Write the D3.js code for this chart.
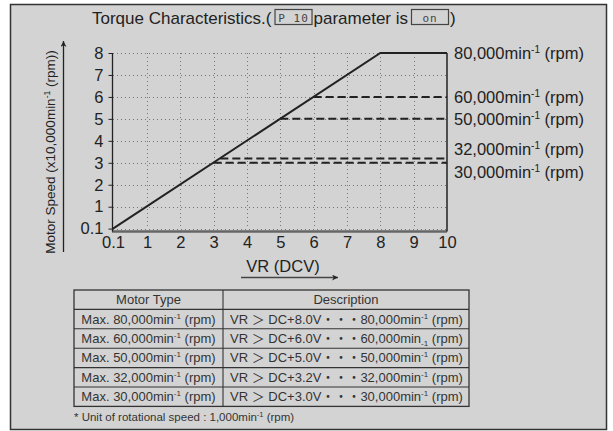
<!DOCTYPE html>
<html lang="en">
<head>
<meta charset="utf-8">
<script src="https://d3js.org/d3.v7.min.js"></script>
<style>
  body { margin: 0; background: #fff; }
  svg { font-family: "Liberation Sans", Arial, "Noto Sans CJK JP", sans-serif; }
</style>
</head>
<body>
<div id="chart"></div>
<script>
// ---- data ----
var xTicks = [0.1, 1, 2, 3, 4, 5, 6, 7, 8, 9, 10];
var yTicks = [0.1, 1, 2, 3, 4, 5, 6, 7, 8];
// main characteristic (VR volts, speed x10,000)
var mainVR = [0.1, 8, 10];
var mainSpeed = [0.1, 8, 8];
// limited motor types: start voltage and speed of the flat dashed part
var limitVR = [6, 5, 3.2, 3];
var limitSpeed = [6, 5, 3.2, 3];
// right hand labels
var labelSpeeds = [8, 6, 5, 3.2, 3];
var labelNames = ["80,000", "60,000", "50,000", "32,000", "30,000"];
// table
var motorSpeeds = ["80,000", "60,000", "50,000", "32,000", "30,000"];
var motorVolts = ["8.0", "6.0", "5.0", "3.2", "3.0"];

var W = 613, H = 431;
var svg = d3.select("#chart").append("svg")
    .attr("width", W).attr("height", H);

// frame
svg.append("rect")
    .attr("x", 10.5).attr("y", 4.5)
    .attr("width", 596).attr("height", 425)
    .attr("fill", "#d3d3d3")
    .attr("stroke", "#333").attr("stroke-width", 1.5);

var ink = "#222";

// scales (0.1 takes the place of the first whole step)
var x = d3.scaleLinear().domain([0.1, 1, 10]).range([113, 147, 447]);
var y = d3.scaleLinear().domain([0.1, 1, 8]).range([228.6, 206.7, 53]);

// grid
var grid = svg.append("g")
    .attr("stroke", "#777").attr("stroke-width", 1)
    .attr("stroke-dasharray", "1,3");
grid.selectAll(".gx").data(xTicks.slice(1, -1)).enter().append("line")
    .attr("x1", function(d){ return Math.round(x(d)) + 0.5; })
    .attr("x2", function(d){ return Math.round(x(d)) + 0.5; })
    .attr("y1", y(8)).attr("y2", y(0.1));
grid.selectAll(".gy").data(yTicks).enter().append("line")
    .attr("y1", function(d){ return Math.round(y(d)) + 0.5; })
    .attr("y2", function(d){ return Math.round(y(d)) + 0.5; })
    .attr("x1", x(0.1)).attr("x2", x(10));

var axisY0 = y(0.1) + 3;

// x axis
var xAxis = svg.append("g")
    .attr("transform", "translate(0," + axisY0 + ")")
    .call(d3.axisBottom(x).tickValues(xTicks).tickSize(0).tickPadding(5)
          .tickFormat(function(d){ return d; }));
xAxis.select(".domain").remove();
xAxis.selectAll("text").attr("font-size", 16.5).attr("fill", ink)
    .attr("font-family", null);
svg.append("line")
    .attr("x1", x(0.1) - 1).attr("x2", x(10))
    .attr("y1", axisY0).attr("y2", axisY0)
    .attr("stroke", "#666").attr("stroke-width", 2.5);

// y axis
var yAxis = svg.append("g")
    .attr("transform", "translate(" + (x(0.1) - 0.5) + ",0)")
    .call(d3.axisLeft(y).tickValues(yTicks).tickSize(4).tickPadding(5)
          .tickFormat(function(d){ return d; }));
yAxis.select(".domain").remove();
yAxis.selectAll("line").attr("stroke", ink);
yAxis.selectAll("text").attr("font-size", 16.5).attr("fill", ink)
    .attr("font-family", null);
svg.append("line")
    .attr("x1", x(0.1) - 0.5).attr("x2", x(0.1) - 0.5)
    .attr("y1", y(8)).attr("y2", axisY0)
    .attr("stroke", ink).attr("stroke-width", 1.3);

// right border of plot
svg.append("line")
    .attr("x1", x(10)).attr("x2", x(10))
    .attr("y1", y(8)).attr("y2", axisY0)
    .attr("stroke", ink).attr("stroke-width", 1.5);

// dashed limited lines
svg.selectAll(".lim").data(limitVR).enter().append("line")
    .attr("x1", function(d){ return x(d); })
    .attr("x2", x(10))
    .attr("y1", function(d, i){ return y(limitSpeed[i]); })
    .attr("y2", function(d, i){ return y(limitSpeed[i]); })
    .attr("stroke", ink).attr("stroke-width", 2)
    .attr("stroke-dasharray", "8,4");

// main line
var line = d3.line()
    .x(function(d){ return x(d[0]); })
    .y(function(d){ return y(d[1]); });
svg.append("path")
    .datum(d3.zip(mainVR, mainSpeed))
    .attr("d", line)
    .attr("fill", "none").attr("stroke", ink).attr("stroke-width", 2);

// right labels (the two lowest are spread apart to fit)
var nudge = [0, 0, 0, -9, 9];
labelNames.forEach(function(name, i){
  var t = svg.append("text")
      .attr("x", x(10) + 7)
      .attr("y", y(labelSpeeds[i]) + nudge[i] + 6)
      .attr("font-size", 16.5).attr("fill", ink);
  t.append("tspan").text(name + "min");
  t.append("tspan").attr("font-size", 10).attr("dy", -6).text("-1");
  t.append("tspan").attr("dy", 6).text(" (rpm)");
});

// y axis title + arrow
var yt = svg.append("text")
    .attr("transform", "translate(55,152) rotate(-90)")
    .attr("text-anchor", "middle")
    .attr("font-size", 13.5).attr("fill", ink);
yt.append("tspan").text("Motor Speed (x10,000min");
yt.append("tspan").attr("font-size", 8.5).attr("dy", -5).text("-1");
yt.append("tspan").attr("dy", 5).text(" (rpm))");

var defs = svg.append("defs");
defs.append("marker").attr("id", "arr")
    .attr("viewBox", "0 0 10 10").attr("refX", 10).attr("refY", 5)
    .attr("markerWidth", 10).attr("markerHeight", 6)
    .attr("markerUnits", "userSpaceOnUse")
    .attr("orient", "auto")
  .append("path").attr("d", "M0,0L10,5L0,10L3,5Z").attr("fill", ink);

svg.append("line")
    .attr("x1", 63.5).attr("x2", 63.5).attr("y1", 252).attr("y2", 41)
    .attr("stroke", ink).attr("stroke-width", 1.3)
    .attr("marker-end", "url(#arr)");

// x axis title + arrow
svg.append("text")
    .attr("x", 283).attr("y", 272)
    .attr("text-anchor", "middle")
    .attr("font-size", 16.5).attr("fill", ink)
    .text("VR (DCV)");
svg.append("line")
    .attr("x1", 241).attr("x2", 338).attr("y1", 277.5).attr("y2", 277.5)
    .attr("stroke", "#444").attr("stroke-width", 1.5)
    .attr("marker-end", "url(#arr)");

// title
var tg = svg.append("g").attr("fill", ink).attr("font-size", 17);
var tx = 92, ty = 24;
var t1 = tg.append("text").attr("x", tx).attr("y", ty).text("Torque Characteristics.(");
tx += t1.node().getComputedTextLength() + 3;
function segBox(label, w) {
  tg.append("rect").attr("x", tx + 0.5).attr("y", 9.5)
      .attr("width", w).attr("height", 15)
      .attr("fill", "none").attr("stroke", "#444").attr("stroke-width", 1.2);
  tg.append("text").attr("x", tx + w / 2 + 0.5).attr("y", 21.5)
      .attr("text-anchor", "middle")
      .attr("font-family", "'DejaVu Sans Mono', monospace")
      .attr("font-size", 11).attr("fill", "#444")
      .attr("letter-spacing", 1)
      .text(label);
  tx += w + 2;
}
segBox("P 10", 37);
var t2 = tg.append("text").attr("x", tx).attr("y", ty).text("parameter is");
tx += t2.node().getComputedTextLength() + 3;
segBox("on", 37);
tg.append("text").attr("x", tx).attr("y", ty).text(")");

// table
var tLeft = 74, tMid = 223, tRight = 469, tTop = 290, rowH = 19.4;
var tbl = svg.append("g").attr("font-size", 13).attr("fill", "#333");
var nRows = motorSpeeds.length + 1;
tbl.append("rect")
    .attr("x", tLeft).attr("y", tTop)
    .attr("width", tRight - tLeft).attr("height", nRows * rowH)
    .attr("fill", "none").attr("stroke", "#333").attr("stroke-width", 1.3);
d3.range(1, nRows).forEach(function(r){
  tbl.append("line")
      .attr("x1", tLeft).attr("x2", tRight)
      .attr("y1", tTop + r * rowH).attr("y2", tTop + r * rowH)
      .attr("stroke", "#333").attr("stroke-width", 1.1);
});
tbl.append("line")
    .attr("x1", tMid).attr("x2", tMid)
    .attr("y1", tTop).attr("y2", tTop + nRows * rowH)
    .attr("stroke", "#333").attr("stroke-width", 1.1);

tbl.append("text").attr("x", (tLeft + tMid) / 2).attr("y", tTop + rowH / 2 + 4.5)
    .attr("text-anchor", "middle").text("Motor Type");
tbl.append("text").attr("x", (tMid + tRight) / 2).attr("y", tTop + rowH / 2 + 4.5)
    .attr("text-anchor", "middle").text("Description");

function minus1(t, sub) {
  var off = sub ? 3 : -5;
  t.append("tspan").attr("font-size", 8).attr("dy", off).text("-1");
  t.append("tspan").attr("dy", -off).text(" (rpm)");
}
motorSpeeds.forEach(function(s, i){
  var yy = tTop + (i + 1) * rowH + rowH / 2 + 4.5;
  var a = tbl.append("text").attr("x", (tLeft + tMid) / 2).attr("y", yy)
      .attr("text-anchor", "middle");
  a.append("tspan").text("Max. " + s + "min");
  minus1(a, false);
  var b = tbl.append("text").attr("x", 230).attr("y", yy);
  b.append("tspan").text("VR \uFF1E DC+" + motorVolts[i] + "V\u30FB\u30FB\u30FB" + s + "min");
  minus1(b, i === 1);
});

var fn = svg.append("text").attr("x", 74).attr("y", 421)
    .attr("font-size", 11.5).attr("fill", "#333");
fn.append("tspan").text("* Unit of rotational speed : 1,000min");
fn.append("tspan").attr("font-size", 7.5).attr("dy", -4).text("-1");
fn.append("tspan").attr("dy", 4).text(" (rpm)");
</script>
</body>
</html>
